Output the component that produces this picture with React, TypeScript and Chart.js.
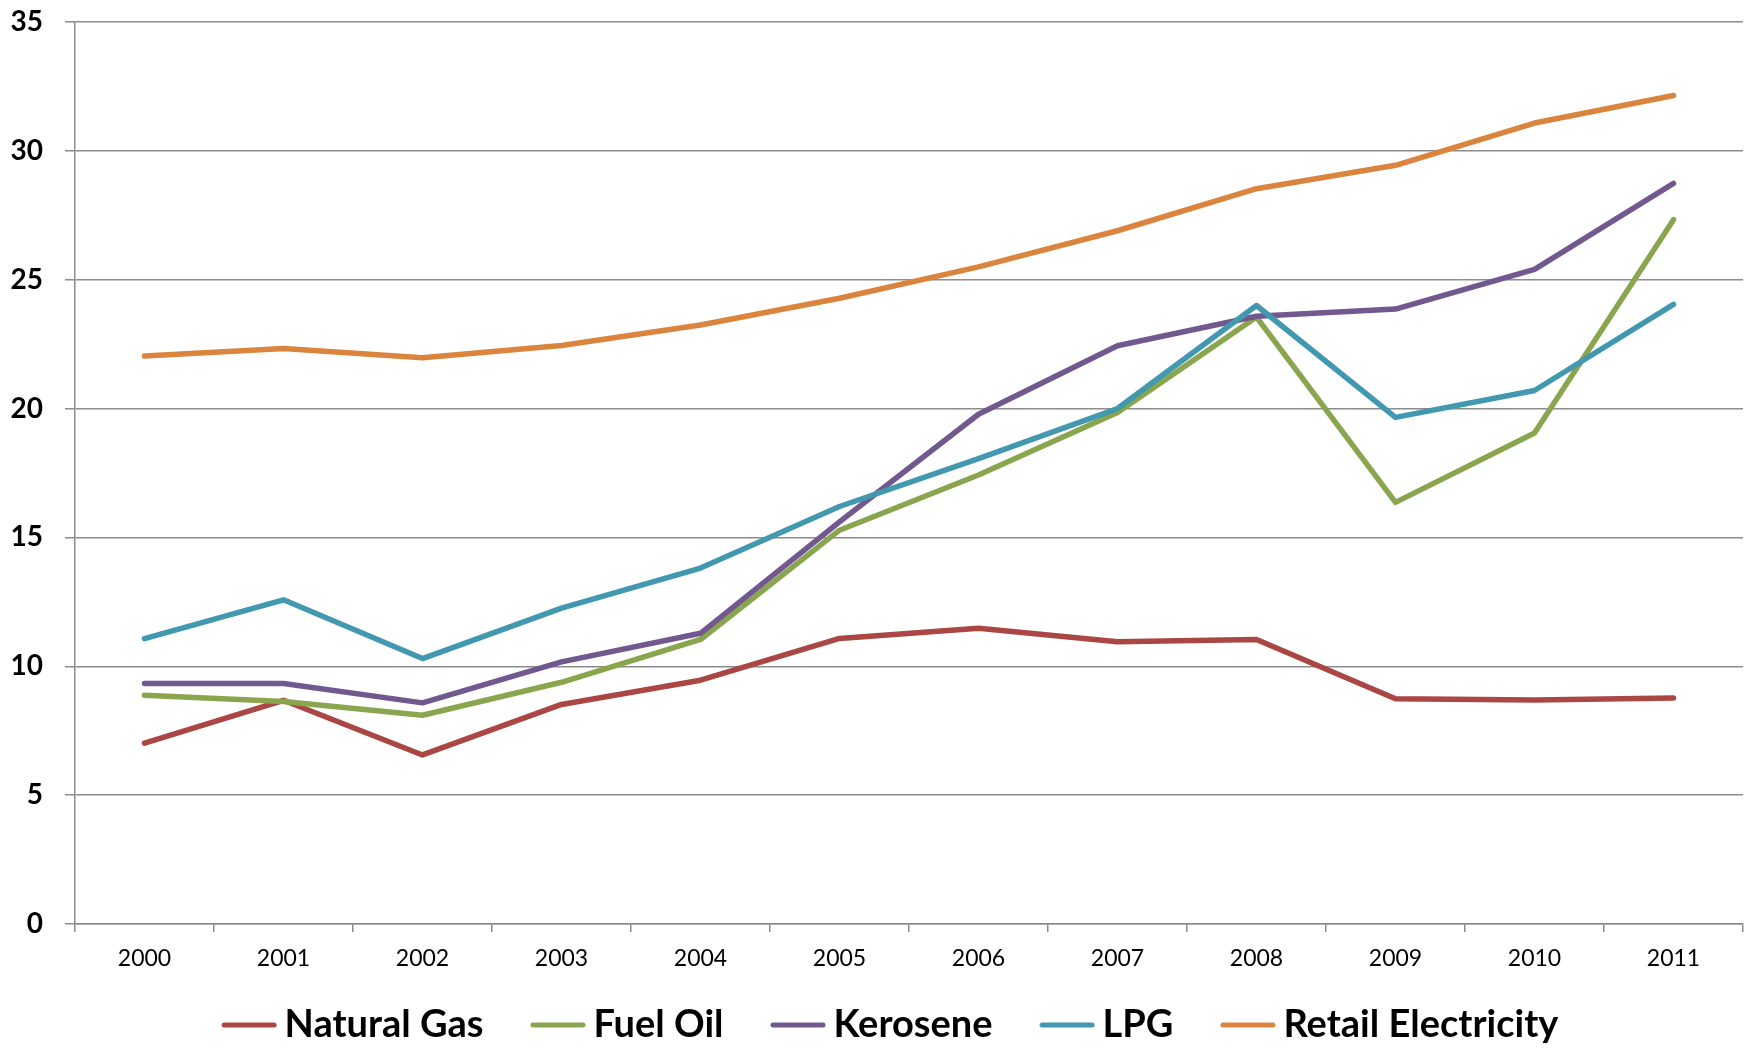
import React, { useEffect, useRef } from "react";
import { Chart, registerables } from "chart.js";

Chart.register(...registerables);

const years = ["2000", "2001", "2002", "2003", "2004", "2005", "2006", "2007", "2008", "2009", "2010", "2011"];
const naturalGas = [7.02, 8.68, 6.56, 8.52, 9.46, 11.08, 11.48, 10.95, 11.04, 8.74, 8.69, 8.77];
const fuelOil = [8.88, 8.63, 8.1, 9.38, 11.04, 15.28, 17.42, 19.85, 23.55, 16.36, 19.05, 27.33];
const kerosene = [9.33, 9.33, 8.58, 10.17, 11.28, 15.6, 19.78, 22.44, 23.58, 23.86, 25.4, 28.74];
const lpg = [11.07, 12.58, 10.3, 12.26, 13.81, 16.2, 18.06, 20.0, 24.0, 19.66, 20.7, 24.04];
const retailElectricity = [22.04, 22.33, 21.97, 22.45, 23.24, 24.28, 25.5, 26.9, 28.53, 29.44, 31.08, 32.15];

const seriesNames = ["Natural Gas", "Fuel Oil", "Kerosene", "LPG", "Retail Electricity"];
const seriesData = [naturalGas, fuelOil, kerosene, lpg, retailElectricity];
const seriesColors = ["#AA4643", "#89A54E", "#71588F", "#4198AF", "#DB843D"];

const FONT = "Lato, 'Open Sans', sans-serif";
const GRID = "#8c8c8c";

// legend marker: image centred on the (wide) legend box, line drawn in its right part
const BOX_W = 81;
function makeLineImage(color: string): HTMLCanvasElement {
  const c = document.createElement("canvas");
  c.width = 104;
  c.height = 8;
  const ctx = c.getContext("2d")!;
  ctx.strokeStyle = color;
  ctx.lineWidth = 5;
  ctx.lineCap = "round";
  ctx.beginPath();
  ctx.moveTo(51, 4);
  ctx.lineTo(101, 4);
  ctx.stroke();
  return c;
}

export default function App() {
  const canvasRef = useRef<HTMLCanvasElement | null>(null);

  useEffect(() => {
    if (!canvasRef.current) return;
    const images = seriesColors.map(makeLineImage);
    const chart = new Chart(canvasRef.current, {
      type: "line",
      data: {
        labels: years,
        datasets: seriesNames.map((name, i) => ({
          label: name,
          data: seriesData[i],
          borderColor: seriesColors[i],
          backgroundColor: seriesColors[i],
          borderWidth: 5.5,
          borderCapStyle: "round" as const,
          borderJoinStyle: "round" as const,
          pointRadius: 0,
          pointHoverRadius: 0,
          tension: 0,
          fill: false,
          order: seriesNames.length - i,
        })),
      },
      options: {
        animation: false,
        responsive: false,
        maintainAspectRatio: false,
        layout: { padding: { top: 22, right: 7, left: 0, bottom: -6 } },
        plugins: {
          tooltip: { enabled: false },
          legend: {
            display: true,
            position: "bottom",
            labels: {
              usePointStyle: true,
              pointStyleWidth: BOX_W,
              padding: 10,
              color: "#000",
              font: { family: FONT, size: 38, weight: "bold" },
              generateLabels: () =>
                seriesNames.map((name, i) => ({
                  text: name,
                  fillStyle: seriesColors[i],
                  strokeStyle: seriesColors[i],
                  lineWidth: 0,
                  pointStyle: images[i] as any,
                  hidden: false,
                  datasetIndex: i,
                  fontColor: "#000",
                })),
            },
          },
        },
        scales: {
          x: {
            type: "category",
            offset: true,
            grid: {
              offset: true,
              drawOnChartArea: false,
              drawTicks: true,
              tickLength: 8,
              color: GRID,
              lineWidth: 1.5,
            },
            border: { display: true, color: GRID, width: 1.5 },
            ticks: {
              color: "#000",
              padding: 13,
              maxRotation: 0,
              autoSkip: false,
              font: { family: FONT, size: 23 },
            },
            afterFit: (scale: any) => {
              scale.height = 72;
            },
          },
          y: {
            min: 0,
            max: 35,
            grid: {
              color: GRID,
              lineWidth: 1.5,
              drawTicks: true,
              tickLength: 10,
            },
            border: { display: true, color: GRID, width: 1.5 },
            ticks: {
              stepSize: 5,
              color: "#000",
              padding: 22,
              font: { family: FONT, size: 28, weight: "bold" },
            },
            afterFit: (scale: any) => {
              scale.width = 75;
              scale.paddingTop = 0;
              scale.paddingBottom = 0;
            },
          },
        },
      },
    });
    return () => chart.destroy();
  }, []);

  return (
    <div style={{ position: "fixed", left: 0, top: 0, width: 1750, height: 1048, background: "#fff" }}>
      <canvas ref={canvasRef} width={1750} height={1048} style={{ width: 1750, height: 1048, display: "block" }} />
    </div>
  );
}
